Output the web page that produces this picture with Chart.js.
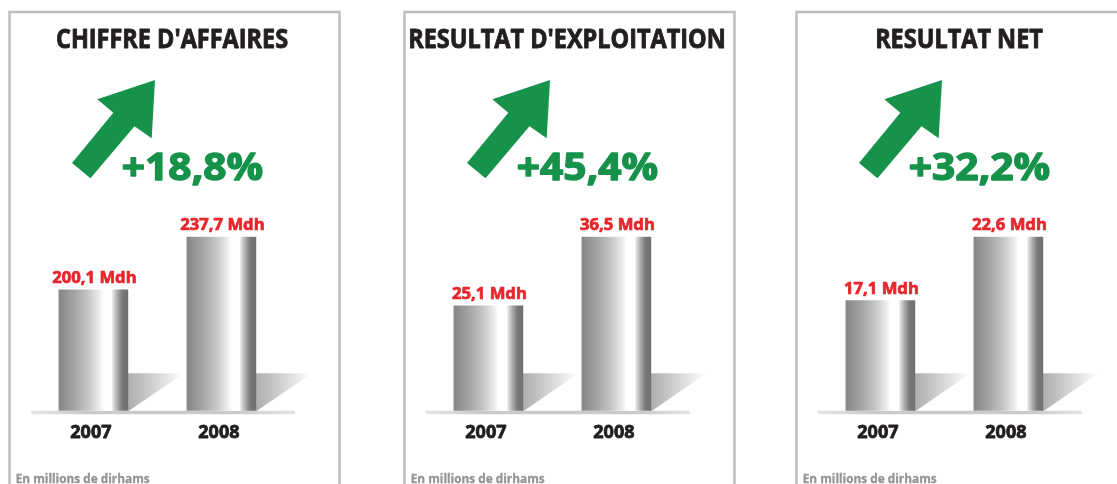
<!DOCTYPE html>
<html>
<head>
<meta charset="utf-8">
<script src="https://cdn.jsdelivr.net/npm/chart.js@4.4.1/dist/chart.umd.min.js"></script>
<style>
  html, body { margin: 0; padding: 0; background: #fff; overflow: hidden; }
  body { width: 1117px; height: 484px; position: relative; }
  .panel { position: absolute; top: 0; width: 350px; height: 484px; }
</style>
</head>
<body>
<div class="panel" style="left:0px"><canvas id="c0" width="350" height="484"></canvas></div>
<div class="panel" style="left:395px"><canvas id="c1" width="350" height="484"></canvas></div>
<div class="panel" style="left:787px"><canvas id="c2" width="350" height="484"></canvas></div>
<script>
const titles = ["CHIFFRE D'AFFAIRES", "RESULTAT D'EXPLOITATION", "RESULTAT NET"];
const years = ['2007', '2008'];
const chiffreAffaires = [200.1, 237.7];
const resultatExploitation = [25.1, 36.5];
const resultatNet = [17.1, 22.6];
const series = [chiffreAffaires, resultatExploitation, resultatNet];
// bars in the original are not drawn from zero: floor of each value axis
const axisFloor = [114.7, 7.8, 7.6];
const unitNote = 'En millions de dirhams';

const FONT = '"Open Sans", "Liberation Sans", sans-serif';
const GREEN = '#16924b';
const RED = '#e8262c';
const DARK = '#231f20';

const fr = v => v.toFixed(1).replace('.', ',');

// bold text, squeezed or widened by sx, thickened by a stroke of width w
function text(ctx, s, x, y, size, color, align, sx, w) {
  ctx.save();
  ctx.font = 'bold ' + size + 'px ' + FONT;
  ctx.fillStyle = color;
  ctx.strokeStyle = color;
  ctx.lineWidth = w || 0;
  ctx.lineJoin = 'round';
  ctx.textAlign = align;
  ctx.textBaseline = 'alphabetic';
  ctx.translate(x, y);
  ctx.scale(sx, 1);
  ctx.fillText(s, 0, 0);
  if (w) ctx.strokeText(s, 0, 0);
  ctx.restore();
}

// arrow outline, panel coordinates
const arrowPts = [[155, 80], [97.3, 99.3], [113.3, 112.7], [72, 163], [90.5, 178.3], [134.5, 126.3], [151.7, 138.3]];

const decor = {
  id: 'decor',
  beforeDatasetsDraw(chart, args, opts) {
    const ctx = chart.ctx;
    const vals = chart.data.datasets[0].data;
    ctx.save();
    // panel frame (open at the bottom)
    ctx.strokeStyle = '#bcbdbf';
    ctx.lineWidth = 2.5;
    ctx.beginPath();
    ctx.moveTo(9.5, 500);
    ctx.lineTo(9.5, 12);
    ctx.lineTo(339.5, 12);
    ctx.lineTo(339.5, 500);
    ctx.stroke();

    text(ctx, opts.title, 172, 48, 26.5, DARK, 'center', 0.885, 0.9);

    // green arrow
    ctx.fillStyle = GREEN;
    ctx.beginPath();
    arrowPts.forEach((p, i) => i ? ctx.lineTo(p[0], p[1]) : ctx.moveTo(p[0], p[1]));
    ctx.closePath();
    ctx.fill();

    const pct = '+' + fr((vals[1] / vals[0] - 1) * 100) + '%';
    text(ctx, pct, 192.5, 180, 37, GREEN, 'center', 1.1, 1.4);

    text(ctx, unitNote, 15.7, 483, 12.2, '#939598', 'left', 0.97, 0.35);

    // floor strip
    const base = chart.scales.y.bottom;
    const g = ctx.createLinearGradient(31, 0, 295, 0);
    g.addColorStop(0, '#e6e6e7');
    g.addColorStop(0.2, '#c9cacb');
    g.addColorStop(0.8, '#c9cacb');
    g.addColorStop(1, '#e4e4e5');
    ctx.fillStyle = g;
    ctx.fillRect(31, base, 264, 3.5);

    // cast shadows
    chart.getDatasetMeta(0).data.forEach(el => {
      const r = el.x + el.width / 2;
      const sg = ctx.createLinearGradient(r, 0, r + 56, 0);
      sg.addColorStop(0, '#acadaf');
      sg.addColorStop(1, '#ffffff');
      ctx.fillStyle = sg;
      ctx.beginPath();
      ctx.moveTo(r, base - 37.5);
      ctx.lineTo(r + 56, base - 37.5);
      ctx.lineTo(r + 1, base);
      ctx.lineTo(r, base);
      ctx.closePath();
      ctx.fill();
    });
    ctx.restore();
  },
  afterDatasetsDraw(chart) {
    const ctx = chart.ctx;
    const vals = chart.data.datasets[0].data;
    const base = chart.scales.y.bottom;
    chart.getDatasetMeta(0).data.forEach((el, i) => {
      text(ctx, fr(vals[i]) + ' Mdh', el.x + 1, el.y - 7, 16.5, RED, 'center', 1.01, 0.7);
      text(ctx, chart.data.labels[i], el.x - 2.5, base + 27, 18, DARK, 'center', 1.0, 0.8);
    });
  }
};

function barFill(context) {
  const chart = context.chart;
  const xs = chart.scales.x;
  if (!xs || !chart.chartArea) return '#a0a0a0';
  const cx = xs.getPixelForValue(context.dataIndex);
  const g = chart.ctx.createLinearGradient(cx - 34.5, 0, cx + 34.5, 0);
  g.addColorStop(0, '#858688');
  g.addColorStop(0.23, '#a4a5a7');
  g.addColorStop(0.43, '#c6c7c8');
  g.addColorStop(0.57, '#e8e8e9');
  g.addColorStop(0.65, '#ffffff');
  g.addColorStop(0.76, '#ffffff');
  g.addColorStop(0.8, '#d2d3d4');
  g.addColorStop(0.86, '#a2a3a5');
  g.addColorStop(0.92, '#77787a');
  g.addColorStop(1, '#6e6f71');
  return g;
}

series.forEach((vals, i) => {
  new Chart(document.getElementById('c' + i), {
    type: 'bar',
    data: {
      labels: years,
      datasets: [{
        data: vals,
        backgroundColor: barFill,
        borderWidth: 0,
        barThickness: 69
      }]
    },
    options: {
      responsive: false,
      animation: false,
      layout: { padding: { top: 236.7, bottom: 73.3, left: 29.4, right: 64.6 } },
      plugins: {
        legend: { display: false },
        tooltip: { enabled: false },
        decor: { title: titles[i] }
      },
      scales: {
        x: { display: false },
        y: { display: false, min: axisFloor[i], max: vals[1] }
      }
    },
    plugins: [decor]
  });
});
</script>
</body>
</html>
